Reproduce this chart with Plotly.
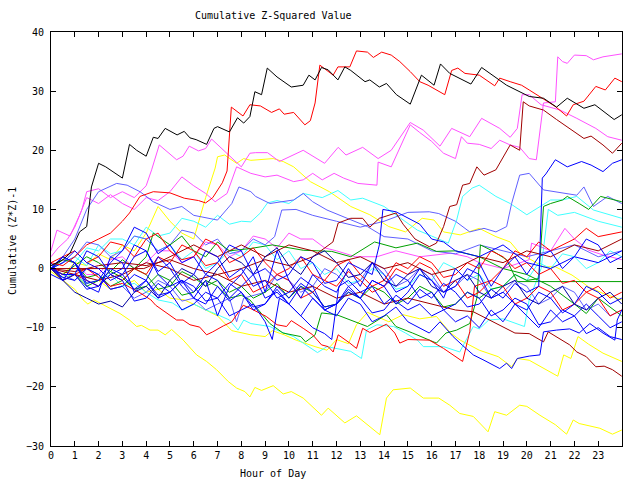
import plotly.graph_objects as go

x_tick_vals = list(range(24))
x_tick_text = [str(h) for h in x_tick_vals]
y_tick_vals = [-30, -20, -10, 0, 10, 20, 30, 40]

# each series: list of (hour, cumulative value)
black_pts = [(0,0.5),(0.5,1.5),(0.8,2.6),(1.2,6.2),(1.5,7.1),(1.7,13.8),(2.0,17.8),(2.3,17.2),(3.0,15.3),(3.2,19.5),(3.3,21),(3.6,20),(4.0,19),(4.3,22.2),(4.5,22),(4.8,23.7),(5.3,22.6),(5.6,23.2),(5.84,22.1),(6.1,21.8),(6.54,21),(6.85,23.7),(7.0,24),(7.5,23.1),(7.84,25.5),(8.1,24.6),(8.36,25.7),(8.57,29.9),(8.85,29.4),(9.09,33.9),(9.5,32.4),(10.1,30.7),(10.6,31),(10.84,32.7),(11.1,31.9),(11.37,34.0),(11.65,33.6),(12.06,31.9),(12.35,34.1),(12.6,33.5),(13.2,31.6),(13.4,31.9),(13.8,30.7),(14.1,31.3),(14.52,29.4),(15.1,27.8),(15.57,32.7),(16.1,31),(16.37,34.6),(16.76,33),(17.65,31.2),(18.1,34),(18.73,32.2),(19.15,31),(20.1,29.1),(20.7,28.8),(21.25,27.3),(21.7,28.8),(22.4,27.1),(22.86,27.7),(23.67,25.2),(23.99,26)]
red_top_pts = [(0,1),(0.5,0.5),(1,2),(1.5,4),(2,5),(2.5,6),(3,8),(3.3,9.4),(3.74,12.2),(4.3,13),(5,12.8),(5.6,11.9),(6.2,11.5),(6.5,11.1),(6.8,12),(7.2,14.5),(7.4,16.5),(7.58,27.3),(8.07,25.8),(8.36,27.7),(8.8,27.5),(9.27,26.4),(9.6,27),(9.8,26.1),(10.2,26.4),(10.67,24.3),(10.9,25),(11.1,28),(11.3,34.4),(11.86,32.7),(12.06,34.1),(12.56,34.1),(12.84,36.8),(13.3,36.6),(13.55,35.7),(13.9,36.6),(14.3,36.1),(14.66,35),(15.1,33.3),(15.5,31.6),(15.85,31),(16.55,29.4),(16.84,33.5),(17.1,33.9),(17.4,33),(18.0,32.7),(18.65,30.9),(18.86,32.2),(19.3,31.6),(19.78,31),(20.1,30.2),(20.76,28.5),(21.2,27.4),(21.67,25.8),(21.95,27.7),(22.4,28.3),(22.9,30.8),(23.3,30.2),(23.7,32.2),(23.99,31.6)]
magenta_a_pts = [(0,3),(0.25,6.5),(0.8,5.5),(1.2,9),(1.5,12),(2,11),(2.5,12.5),(3,11),(3.5,10),(4,12),(4.5,11.5),(5,13),(5.5,15.5),(6.0,14),(6.5,12.7),(6.9,11.3),(7.4,12.7),(7.8,17.2),(8.4,16.1),(9,15.5),(9.5,15.8),(10.2,14.7),(10.6,15),(11,16.1),(11.4,15),(11.9,16.1),(12.3,15.3),(12.9,14.4),(13.7,14.1),(13.75,18),(14.3,17.2),(15.1,24.3),(15.5,23),(16.0,21.5),(16.5,19.5),(17.0,18.6),(17.25,22.3),(17.5,21.2),(18.0,21),(18.5,20.3),(18.86,21.7),(19.3,20.9),(19.7,20.5),(20.1,18.6),(20.4,18.4),(20.7,28),(21.2,28.2),(21.3,35.8),(21.5,35),(21.7,34.7),(22.0,36.1),(22.5,36),(22.8,35.3),(23.2,35.8),(23.99,36.3)]
magenta_b_pts = [(0,2),(0.3,3.5),(0.7,5),(1,7),(1.3,10),(1.5,13),(2,13.5),(2.5,12),(3,13),(3.5,12),(4,14),(4.23,16.7),(4.55,20.9),(5.28,18.4),(5.55,19),(5.81,20.7),(6.2,19.9),(6.5,20.3),(6.75,21.9),(7.3,19.8),(8.0,17.2),(8.36,19.5),(8.6,19.6),(9.1,19.6),(9.6,18.1),(10.6,20),(11.5,17.8),(12.07,20.5),(12.4,19.2),(13.1,20.5),(13.75,18.6),(14.3,20),(15.1,24.7),(15.65,23.4),(16.35,20.7),(16.84,23.7),(17.3,22.9),(17.6,22.3),(18.1,25.4),(18.86,23.7),(19.3,22.2),(19.6,23.7),(19.8,29.4),(20.1,29.4),(20.6,27.7),(21.4,26.8),(22.1,25.4),(22.9,23.7),(23.4,22.3),(23.99,21.7)]
magenta_c_pts = [(0,0),(0.5,1.5),(1,1),(1.5,-1),(2,-1),(2.5,1.5),(3,2),(3.5,0),(4,1),(4.5,3),(5,3),(5.5,1),(6,2),(6.5,4.5),(7,4),(7.5,2),(8,3),(8.5,5.5),(9,5),(9.5,3.5),(10,6),(10.5,5),(11,5),(11.5,3.5),(12,3),(12.8,2),(13.7,2),(14.5,3),(15.5,2),(16.8,2.6),(17.5,2),(18,1),(19,0),(20.1,1.5),(20.2,4.3),(21,3),(21.6,6.8),(22,5),(22.6,3.1),(23.2,2.3),(23.99,1.5)]
maroon_a_pts = [(0,0),(1,-0.5),(2,0.5),(3,1),(4,0.5),(5,1.5),(6,0),(7,-1),(8,0),(9,1.5),(10,0.5),(11,2),(11.85,4.5),(12.07,7.7),(12.6,8.5),(13.1,8.5),(13.4,7),(13.8,8.5),(14.5,9.4),(14.8,7.5),(15.3,5),(15.9,3.7),(16.2,4.3),(16.5,7.1),(16.76,10.5),(17.05,10.8),(17.3,14.1),(17.6,14.4),(17.9,17.2),(18.2,15.8),(18.7,16.7),(18.93,18.4),(19.3,20.9),(19.7,20),(19.85,28.2),(20.1,27.5),(20.7,26.8),(21.25,25.2),(21.7,24),(22.4,22),(22.7,22.4),(23.2,20.9),(23.6,19.5),(23.99,21.2)]
maroon_b_pts = [(0,0),(3.9,0),(4.5,1),(5,2),(5.5,3),(6,4),(6.5,3),(7,2),(8,4),(9,2),(10,4),(11,3),(12,1),(13,2),(14,0),(15,1),(16,-1),(17,0),(18,2),(19,1),(20,3),(21,2),(22,4),(23,3),(23.99,5)]
maroon_c_pts = [(0,0),(1,-1),(2,-2),(3,-1),(4,1),(5,0),(6,-2),(7,-1),(8,-3),(9,-2),(10,-4),(11,-3),(12,-5),(13,-4),(14,-6),(15,-5),(16,-6),(17,-7),(17.75,-7.3),(18.7,-9.3),(19.5,-10.9),(20.1,-11),(20.7,-12.4),(20.9,-10.7),(21.25,-11.5),(21.8,-12.9),(22.1,-14.1),(22.5,-14.9),(22.9,-16.6),(23.25,-16.5),(23.6,-17.1),(23.99,-18.2)]
yellow_bot_pts = [(0,-0.5),(0.5,-2),(1,-3.5),(1.35,-5.3),(1.55,-6),(1.8,-5.3),(2.3,-6.4),(2.9,-7.6),(3.3,-8.7),(3.6,-9.8),(3.8,-9.6),(4.16,-10.4),(4.5,-10.4),(4.8,-11.2),(5.07,-10.3),(5.56,-12.1),(6.12,-14.6),(6.54,-15.7),(6.96,-17.1),(7.45,-19.1),(7.8,-20.2),(8.15,-20.8),(8.36,-21.7),(8.57,-20.1),(8.85,-20.6),(9.34,-19.8),(9.76,-21.2),(10.1,-20.8),(10.6,-21.9),(11.37,-24.8),(11.65,-23.6),(12.35,-26.1),(12.84,-24.9),(13.82,-28.1),(14.1,-21.9),(14.38,-20.5),(15.1,-20.2),(15.65,-21.9),(16.3,-21.9),(16.76,-23.1),(17.18,-24.5),(17.75,-25),(18.37,-27.6),(18.65,-24.2),(19.15,-24.8),(19.7,-23.1),(20.0,-23.3),(20.55,-24.8),(21.2,-26.4),(21.67,-28),(21.95,-25.6),(22.2,-26.2),(23.07,-27),(23.6,-28),(23.99,-27.3)]
yellow_mid_pts = [(0,0),(0.5,-1.5),(1,-1),(1.5,-2.5),(2,-2),(2.5,-3.5),(3,-3),(3.5,-2),(4,-4),(4.5,-3.5),(5,-5),(5.6,-5.3),(6.2,-6.4),(7,-8),(7.6,-10.5),(8.4,-11.2),(9,-11.5),(9.3,-10.5),(9.8,-11.2),(10.3,-12.1),(11.1,-13.2),(11.6,-13.8),(12.0,-12),(12.5,-12.7),(12.84,-9.5),(13.3,-7.4),(14.2,-9),(14.8,-7.8),(15.5,-8.5),(16.2,-8.1),(16.8,-10.9),(17.2,-12.1),(18,-13.8),(18.8,-14.9),(19.36,-16.6),(19.6,-15.2),(20.1,-15.5),(20.7,-16.9),(21.3,-18.2),(21.55,-14.6),(21.85,-15.2),(22.15,-11.5),(22.6,-12.8),(23.2,-14.3),(23.99,-15.7)]
yellow_up_pts = [(0,0),(0.5,-1),(1,1),(1.5,0.5),(2,2.5),(2.5,1.5),(3,4),(3.5,3),(4,6),(4.5,10.5),(5,8),(5.5,6),(6,5),(6.5,12),(6.9,17),(7.0,18.9),(7.3,19.2),(7.8,17.8),(8.1,18.6),(8.4,18.3),(9.34,18.6),(9.76,18.1),(10.2,17.2),(10.9,14.7),(11.7,13),(12.6,10.5),(13.4,9.1),(14.2,7.1),(14.9,6.2),(15.6,8.5),(16.1,8.2),(16.5,6.2),(17.2,5.7),(18,6.8),(18.7,5.4),(19.3,4.5),(19.7,2.6),(20.1,1.7),(20.7,0.3),(21.2,0.3),(21.9,-1.1),(22.6,-3.1),(23.2,-4.2),(23.99,-5.3)]
cyan_up_pts = [(0,0),(0.5,2),(1,1),(1.5,3.5),(2,3),(2.5,5),(3,5),(3.5,4),(4,7),(4.5,5.5),(5,6),(5.5,8.5),(6,8),(6.5,7),(7,9),(7.5,7.5),(8,8),(8.4,7.9),(8.8,9.4),(9.1,11.1),(9.5,11.5),(10,11),(10.6,12.7),(11.4,12),(12.06,13.2),(12.6,11.6),(13.1,11.9),(14,10.5),(14.7,8.5),(15.4,6.5),(16,5.5),(16.7,4.3),(17.05,8.2),(17.3,12.2),(17.7,13.6),(18,14.1),(18.7,12.2),(19.3,11),(20,9.1),(20.55,10.5),(21,11.6),(21.5,11.6),(22.1,12.2),(22.8,9.9),(23.5,9.1),(23.99,8.5)]
cyan_low_pts = [(0,0),(0.5,-1.5),(1,-1),(1.5,-2.5),(2,-2),(2.5,-1),(3,-3),(3.5,-2.5),(4,-4),(4.5,-5.3),(5.1,-5.8),(5.55,-7),(6,-6),(6.4,-6.8),(7.0,-7.8),(7.5,-8.7),(7.86,-10.4),(8.1,-8.7),(8.4,-9.3),(9.2,-9.8),(9.6,-10.6),(10.2,-11.5),(10.6,-12.6),(11.2,-14.2),(11.6,-13.2),(12.1,-13.6),(12.6,-14),(13.05,-15.2),(13.26,-10.4),(13.7,-9.5),(14.4,-9.8),(14.9,-10.9),(15.4,-12.1),(15.65,-13.2),(16.5,-13.2),(17.18,-14.1),(17.75,-9.8),(18.0,-10.2),(18.4,-8.7),(19.0,-8.5),(19.9,-9.8),(20.1,-5.3),(20.4,-2),(20.6,0),(20.9,10),(21.3,9),(22,9.5),(23,8),(23.99,7)]
cyan_mid_pts = [(0,0),(0.5,1),(1,2),(1.5,0.5),(2,4),(2.5,2.5),(3,3),(3.5,5.5),(4,5),(4.5,3),(5,4),(5.5,1.5),(6,3),(6.5,0),(7,1),(7.5,3),(8,2),(8.5,4.5),(9,4),(9.5,1.5),(10,3),(10.5,0),(11,1),(11.5,-1),(12,0),(12.5,-2.5),(13,-2),(13.5,0),(14,-1),(14.5,-3.5),(15,-3),(15.5,-1),(16,-2),(16.5,1),(17,0),(17.5,-2),(18,-1),(18.5,-3.5),(19,-3),(19.5,-1),(20,-2),(20.5,1),(21,0),(21.5,2.5),(22,2),(22.5,0),(23,1),(23.5,3),(23.99,2)]
green_a_pts = [(0,0),(0.5,1.5),(1,1),(1.5,-1.5),(2,-1),(2.5,-3),(3,-2),(3.5,0),(4,-1),(4.5,-3.5),(5,-3),(5.5,-0.5),(6,-1.5),(6.5,-3),(7,-2),(7.5,-4),(8,-3),(8.5,-5),(9,-4),(9.5,-2.5),(10,-5),(10.5,-3),(11,-4),(11.5,-6.5),(12,-6),(12.5,-4),(13,-5),(13.5,-3),(14,-4),(14.5,-6),(15,-5),(15.5,-3),(16,-4),(16.5,-6.5),(17,-6),(17.5,-4),(18,-5),(18.5,-3.5),(19,-3),(19.5,-1),(20,-2),(20.5,-1.7),(20.7,10.5),(21,11),(21.5,11.6),(21.7,12.2),(22.2,11),(22.6,10),(23.1,12.2),(23.99,11.3)]
green_flat_pts = [(0,0),(0.5,-2),(1,-1),(1.5,-3),(2,-2),(2.5,-0.5),(3,-1.5),(3.5,-3.5),(4,-3),(4.5,-1),(5,-2),(5.5,-4.5),(6,-4),(6.5,-2),(7,-3),(7.5,-5),(8,-4.5),(8.36,-5.3),(9.2,-9.3),(9.75,-10.9),(10.5,-11.5),(10.7,-12.4),(11.1,-11.2),(11.37,-7.5),(12,-7.8),(12.6,-8.7),(13.3,-9.8),(14.1,-7.8),(14.5,-9.8),(15.2,-10.9),(15.6,-11.6),(16.2,-12.6),(16.6,-10.9),(17.05,-10.4),(17.6,-9.3),(17.9,-5),(18.05,4),(18.6,2.9),(19.15,1.5),(19.6,-2.2),(23.99,-2.2)]
green_c_pts = [(0,0),(0.5,-1),(1,0.5),(1.5,2),(2,1),(2.5,-0.5),(3,1.5),(3.5,0),(4,2),(4.3,6),(5,4),(5.5,5.5),(6,3),(6.5,2),(7,4.5),(7.5,3),(8.4,3.4),(9.3,4),(10.6,3.1),(11.8,2.9),(12.6,2),(13.6,4.5),(14.5,3.5),(15.4,4.3),(16.2,2.9),(17,3),(18,2),(19,0),(20,-1),(21,-3),(22,-6),(22.5,-7.6),(23,-5),(23.99,-8)]
blue_jump_pts = [(0,0),(0.5,-1.5),(1,-2),(1.5,0),(2,-1),(2.5,-3.5),(3,-3),(3.5,-1),(4,-2),(4.5,-4.5),(5,-4),(5.5,-2),(6,-3),(6.5,-5.5),(7,-5),(7.5,-2.5),(8,-4),(8.5,-6.5),(9,-6),(9.5,-3),(10,-5),(10.5,-2.5),(11,-4),(11.5,-6.5),(12,-6),(12.5,-3.5),(13,-5),(13.5,-7.5),(14,-7),(14.5,-4.5),(15,-6),(15.5,-3.5),(16,-5),(16.5,-2.5),(17,-4),(17.5,-6.5),(18,-6),(18.5,-3.5),(19,-5),(19.5,-2.5),(20,-4),(20.5,-3),(20.65,15.3),(20.8,16),(21.2,18.4),(21.7,17.2),(22.3,18.1),(22.7,17.5),(23.2,16.4),(23.6,17.8),(23.99,18.4)]
blue_end_pts = [(0,0),(0.5,2),(1,1),(1.5,-2),(2,-3),(2.5,0),(3,-1),(3.5,-3.5),(4,-2),(4.5,-5),(5,-4),(5.5,-2),(6,-5),(6.5,-6),(7,-3),(7.5,-5.5),(8,-4),(8.5,-7),(9,-6),(9.5,-3.5),(10,-6),(10.5,-8),(11,-5),(11.5,-7),(12,-8),(12.5,-5),(13,-6),(13.5,-9),(14,-8),(14.5,-6.5),(15,-9),(15.9,-10.9),(16.35,-9),(16.9,-11.5),(17.3,-13),(17.75,-14.6),(18.2,-15.5),(18.86,-16.9),(19.15,-16),(19.36,-16.9),(19.6,-15.2),(20.1,-14.8),(20.55,-14.6),(20.7,-10.7),(21.25,-10.4),(21.8,-10.2),(22.2,-10.9),(22.65,-9.3),(23.2,-10.9),(23.7,-12.1),(23.8,-8.7),(23.99,-7)]
blue_b_pts = [(0,1),(0.5,-2),(1,-1),(1.5,3),(2,2),(2.5,-1),(3,0),(3.5,4),(4,3),(4.5,-0.5),(5,1),(5.5,-2.5),(6,-1),(6.5,3),(7,2),(7.5,-1.5),(8,0),(8.5,-3),(9,-2),(9.5,-5),(10,-4),(10.5,-1.5),(11,-3),(11.5,-7),(12,-6),(12.5,-3),(13,-5),(13.5,-2),(14,-3),(14.5,-1),(15,-2),(15.5,-5),(16,-4),(16.5,-7),(17,-6),(17.5,-4),(18,-5),(18.5,-8),(19,-7),(19.5,-5),(20,-6),(20.5,-9.5),(21,-9),(21.5,-7),(22,-8),(22.5,-11),(23,-10),(23.5,-11.5),(23.99,-12)]
blue_c_pts = [(0,0),(0.5,2),(1,1),(1.5,-2.5),(2,-2),(2.5,1),(3,3),(3.5,7),(4,6),(4.5,2.5),(5,4),(5.5,1),(6,2),(6.5,-1),(7,1),(7.5,4),(8,3),(8.5,-1),(9,0),(9.5,-2),(10,-1),(10.5,2),(11,1),(11.5,-2.5),(12,-2),(12.5,1),(13,0),(13.5,-1),(13.8,4),(13.95,10),(14.5,9.6),(15,8.5),(15.5,7.5),(16,5),(16.5,4.5),(17,3),(18,2),(19,4),(20,1),(21,0),(22,2),(23,1),(23.99,3)]
blue_d_pts = [(0,-1),(0.5,-2),(1,1),(1.5,-3),(2,-4),(2.5,2),(3,1),(3.5,-4),(4,-2),(4.5,2),(5,0),(5.5,-3),(6,-5),(6.5,-2),(7,-8),(7.5,-3),(8,-1),(8.5,2),(9,-4),(9.5,3),(10,-2),(10.5,-5),(11,-1),(11.5,-3),(12,-4),(12.5,0),(13,-3),(13.5,1),(14,-1),(14.5,-4),(15,-3),(15.5,0),(16,-2),(16.5,-5),(17,0),(17.5,-2),(18,1),(18.5,-3),(19,0),(19.5,2),(20,-1),(20.5,2),(21,3),(21.5,0),(22,2),(22.5,5),(23,4),(23.5,1),(23.99,2)]
blue_e_pts = [(0,0),(0.5,1),(1,3),(1.5,1),(2,0),(2.5,-2),(3,-1),(3.5,2),(4,3),(4.5,-1),(5,-3),(5.5,-2),(6,-4),(6.5,-1),(7,-2),(7.5,-5),(8,-3),(8.5,-1),(9,-5),(9.5,-4),(10,-6),(10.5,-3),(11,-5),(11.5,-7),(12,-6),(12.5,-4),(13,-5),(13.5,-2),(14,-3),(14.5,-6),(15,-4),(15.5,-1),(16,-2),(16.5,-4),(17,-3),(17.5,0),(18,-1),(18.5,-5),(19,-4),(19.5,-6),(20,-7),(20.5,-4),(21,-5),(21.5,-7.5),(22,-6),(22.5,-3),(23,-4),(23.5,-6),(23.99,-5)]
blue_f_pts = [(0,0),(0.5,-1),(1,-1),(1.5,-3.5),(2,-3),(2.5,-1),(3,-2),(3.5,-5.5),(4,-5),(4.5,-2.5),(5,-4),(5.5,-7),(6,-6),(6.5,-4),(7,-5),(7.5,-8),(8,-7),(8.5,-6),(9,-9),(9.3,-12),(9.6,-5),(10,-6),(10.5,-8),(11,-10),(11.5,-11),(11.8,-12),(12.1,-3),(12.5,-2),(13,-4),(13.5,-3),(14,-6),(14.3,-5),(15,-7),(15.5,-6),(16,-8),(16.5,-7),(17,-9),(17.5,-8),(18,-10),(18.5,-7),(19,-9),(19.5,-6),(20,-8),(20.5,-10),(21,-7),(21.5,-9),(22,-8),(22.5,-6),(23,-8),(23.5,-10),(23.99,-9)]
navy_pts = [(0,0),(0.5,-2),(1,-4),(1.5,-5),(2,-6),(2.5,-5.5),(3,-6.5),(3.5,-4),(4,-3),(4.5,-5),(5,-2),(5.5,0),(6,-1),(6.5,-3),(7,0),(7.5,2),(8,1),(8.5,-1),(9,2),(9.5,3.5),(10,0.5),(10.5,-1),(11,2),(11.5,3),(12,1),(12.5,-1.5),(13,-1),(13.5,1),(14,-2),(14.5,-3),(15,-1),(15.5,0),(16,-3),(16.5,-4),(17,-2),(17.5,-1),(18,-4),(18.5,-5),(19,-3),(19.5,-2),(20,-5),(20.5,-6),(21,-4),(21.5,-3),(22,-6),(22.5,-7),(23,-5),(23.5,-4),(23.99,-6)]
slate_a_pts = [(0,0),(0.5,2),(1,5),(1.5,10),(2,13),(2.76,14.4),(3.2,14.1),(3.74,13),(4.3,11.3),(5,10),(5.5,10.5),(6,9),(7,8.2),(7.6,11),(7.9,13.8),(8.4,13),(8.6,12.2),(9.2,11),(10.2,11.6),(10.6,12.7),(11,11.3),(11.6,9.9),(13.3,7.1),(14,5.4),(15,5),(16,3),(17,2.5),(18,4),(19,3),(20,2),(21,3),(22,4),(23,2),(23.99,3)]
slate_b_pts = [(0,0),(0.5,1),(1,2),(1.5,4.5),(2,4),(2.5,2),(3,3),(3.5,5.5),(4,5),(4.5,3),(5,4),(5.5,6.5),(6,6),(6.5,4),(7,5),(7.5,2.5),(8,3),(8.5,5),(9,4),(9.4,5.4),(9.7,9.9),(10.3,10),(11,9),(12,8),(13,7),(14,8),(15,9.5),(15.9,9.6),(16.3,9.3),(17,8),(17.6,6.2),(18.2,6.8),(18.7,6.2),(19.15,7.1),(19.36,11),(19.7,15.8),(20.1,16.1),(20.7,13.3),(21.5,12.8),(22.1,12.4),(22.4,13.8),(22.8,10.5),(23.4,12.2),(23.99,11)]
slate_c_pts = [(0,0),(0.5,-1),(1,-2),(1.5,0),(2,-1),(2.5,-3.5),(3,-3),(3.5,-5),(4,-4),(4.5,-2),(5,-3),(5.5,-5.5),(6,-5),(6.5,-7),(7,-6),(7.5,-5),(7.8,-9),(8.1,-5),(9,-4),(9.5,-1),(10,-2),(10.5,-4),(11,-3),(11.5,0),(12,-1),(12.5,-3),(13,-2),(13.5,1),(14,0),(14.5,-3),(15,-2),(15.5,0),(16,-1),(16.5,-4),(17,-3),(17.5,-1),(18,-2),(18.5,-5),(19,-4),(19.5,-2),(20,-3),(20.5,-6),(21,-5),(21.5,-3),(22,-4),(22.5,-7),(23,-6),(23.5,-8),(23.99,-7)]
red_bot_pts = [(0,0),(0.5,-1),(1,-1),(1.5,0),(2,-1.5),(2.5,-3),(3,-2.5),(3.7,-4),(4.2,-5.3),(4.4,-6.2),(5.28,-8.7),(5.55,-8.7),(5.84,-9.5),(6.25,-9.9),(6.54,-11.2),(6.8,-10.7),(7.24,-9.7),(7.6,-9),(8.08,-6.2),(8.36,-6.7),(9.05,-8.1),(9.5,-9.5),(9.9,-9.8),(10.1,-8.8),(10.6,-10.1),(11.0,-11.2),(11.37,-12.9),(11.65,-13.2),(11.86,-14.1),(12.07,-11.2),(12.56,-12.6),(12.84,-13.5),(13.1,-10.1),(13.4,-10.8),(14.1,-9.4),(14.45,-10.9),(14.66,-12.6),(15.0,-12),(15.9,-12.1),(16.5,-13.5),(17.3,-15.7),(17.6,-10.7),(17.8,-3),(18.5,-2),(19,0),(19.5,3),(20,2),(20.5,4.5),(21,3),(22,5),(22.5,6.8),(23,5.4),(23.99,6.2)]
red_mid_pts = [(0,1),(0.5,2),(1,3),(1.5,1),(2,2),(2.5,4.5),(3,4),(3.5,2),(4,5),(4.5,6),(5,3),(5.5,1.5),(6,2),(6.5,5),(7,4),(7.5,1),(8,2),(8.5,3.5),(9,1),(9.5,-1),(10,0),(10.5,2),(11,-1),(11.5,-2),(12,0.5),(12.5,1.5),(13,-1),(13.5,-3),(14,-2),(14.5,1),(15,0),(15.5,2),(16,1),(16.5,-1.5),(17,-1),(17.5,1),(18,0),(18.5,3),(19,2),(19.5,0),(20,1),(20.5,-1),(21,0),(21.5,-2.5),(22,-2),(22.5,-4),(23,-3),(23.5,-5),(23.99,-4)]
red_mid2_pts = [(0,0),(0.5,-2),(1,-1),(1.5,-2),(2,-3),(2.5,-1),(3,-2),(3.5,0),(4,-1),(4.5,2),(5,1),(5.5,4),(6,3),(6.5,0.5),(7,1),(7.5,-2),(8,-1),(8.5,-4),(9,-3),(9.5,-1),(10,-2),(10.5,-5),(11,-4),(11.5,-2),(12,-3),(12.5,-0.5),(13,-2),(13.5,-4),(14,-3),(14.5,0),(15,-1),(15.5,1),(16,0),(16.5,-3),(17,-2),(17.5,-5),(18,-4),(18.5,-2),(19,-3),(19.5,-6),(20,-5),(20.5,-3),(21,-4),(21.5,-7),(22,-6),(22.5,-4),(23,-5),(23.5,-8),(23.99,-7)]

RED = "#ff0000"; GREEN = "#00a000"; BLUE = "#0000ff"; MAG = "#ff50ff"
CYAN = "#40ffff"; YEL = "#ffff00"; BLACK = "#000000"; MAROON = "#a00000"
SLATE = "#6060ff"; NAVY = "#0000a0"

series = [
    (yellow_bot_pts, YEL), (yellow_mid_pts, YEL), (yellow_up_pts, YEL),
    (cyan_low_pts, CYAN), (cyan_mid_pts, CYAN), (cyan_up_pts, CYAN),
    (magenta_c_pts, MAG), (magenta_b_pts, MAG), (magenta_a_pts, MAG),
    (slate_a_pts, SLATE), (slate_b_pts, SLATE), (slate_c_pts, SLATE),
    (green_a_pts, GREEN), (green_flat_pts, GREEN), (green_c_pts, GREEN),
    (red_mid_pts, RED), (red_mid2_pts, RED), (red_bot_pts, RED),
    (maroon_b_pts, MAROON), (maroon_c_pts, MAROON), (maroon_a_pts, MAROON),
    (navy_pts, NAVY), (blue_b_pts, BLUE), (blue_c_pts, BLUE), (blue_d_pts, BLUE),
    (blue_e_pts, BLUE), (blue_f_pts, BLUE), (blue_end_pts, BLUE), (blue_jump_pts, BLUE),
    (red_top_pts, RED), (black_pts, BLACK),
]

fig = go.Figure()
for pts, color in series:
    fig.add_trace(go.Scatter(
        x=[p[0] for p in pts], y=[p[1] for p in pts], mode="lines",
        line=dict(color=color, width=1), showlegend=False, hoverinfo="skip"))

FONT = "DejaVu Sans Mono"
axis_common = dict(showline=True, linecolor="black", linewidth=1, mirror="ticks",
                   ticks="inside", ticklen=5, tickcolor="black", showgrid=False,
                   zeroline=False, tickfont=dict(family=FONT, size=10, color="black"))
fig.update_layout(
    width=640, height=480,
    margin=dict(l=51, r=18, t=32, b=34),
    paper_bgcolor="white", plot_bgcolor="white",
    xaxis=dict(range=[0, 24], tickvals=x_tick_vals, ticktext=x_tick_text, **axis_common),
    yaxis=dict(range=[-30, 40], tickvals=y_tick_vals, ticklabelstandoff=4, **axis_common),
)
# text placed at container-pixel positions, converted into paper coordinates
pw, ph = 640 - 51 - 18, 480 - 32 - 34
labels = [("Cumulative Z-Squared Value", 273, 15, 0),
          ("Hour of Day", 273, 473, 0),
          ("Cumulative (Z*Z)-1", 12, 241, -90)]
for text, px, py, ang in labels:
    fig.add_annotation(text=text, x=(px - 51) / pw, y=(480 - 34 - py) / ph,
                       xref="paper", yref="paper", xanchor="center", yanchor="middle",
                       textangle=ang, showarrow=False,
                       font=dict(family=FONT, size=10, color="black"))

fig.write_html("out.html")
